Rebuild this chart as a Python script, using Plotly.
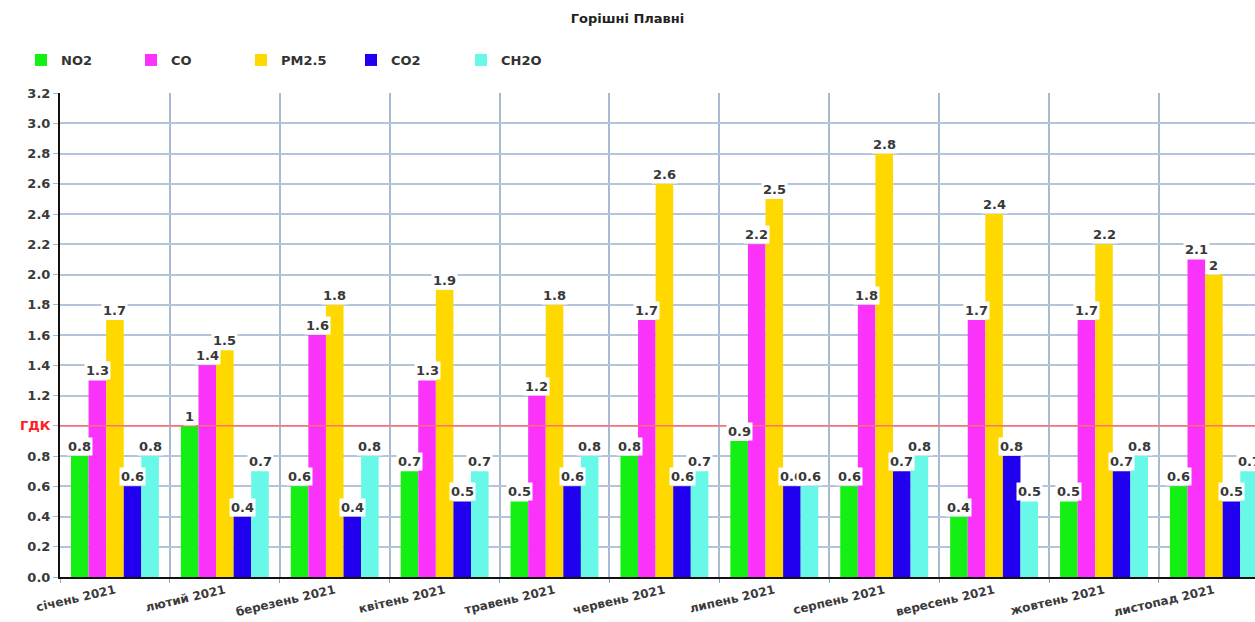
import plotly.graph_objects as go

# Monthly air-quality readings for Горішні Плавні (2021)
months = ["січень 2021", "лютий 2021", "березень 2021", "квітень 2021",
          "травень 2021", "червень 2021", "липень 2021", "серпень 2021",
          "вересень 2021", "жовтень 2021", "листопад 2021"]

no2 = [0.8, 1, 0.6, 0.7, 0.5, 0.8, 0.9, 0.6, 0.4, 0.5, 0.6]
co = [1.3, 1.4, 1.6, 1.3, 1.2, 1.7, 2.2, 1.8, 1.7, 1.7, 2.1]
pm25 = [1.7, 1.5, 1.8, 1.9, 1.8, 2.6, 2.5, 2.8, 2.4, 2.2, 2]
co2 = [0.6, 0.4, 0.4, 0.5, 0.6, 0.6, 0.6, 0.7, 0.8, 0.7, 0.5]
ch2o = [0.8, 0.7, 0.8, 0.7, 0.8, 0.7, 0.6, 0.8, 0.5, 0.8, 0.7]

series_names = ["NO2", "CO", "PM2.5", "CO2", "CH2O"]
series_values = [no2, co, pm25, co2, ch2o]
series_colors = ["#14F014", "#FA32FA", "#FFD800", "#2000EE", "#68F8E8"]

limit_value = 1.0          # ГДК threshold
y_ticks = [round(0.2 * k, 1) for k in range(17)]

W, H = 1255, 622
M_L, M_R, M_T, M_B = 60, 0, 93, 45
x_lo, x_hi = -0.5, 10.374
bargap = 0.2

plot_w = W - M_L - M_R
cat_px = plot_w / (x_hi - x_lo)
bar_px = cat_px * (1 - bargap) / len(series_names)

fig = go.Figure()
for name, vals, col in zip(series_names, series_values, series_colors):
    fig.add_trace(go.Bar(
        name=name, x=months, y=vals,
        marker=dict(color=col, line=dict(width=0)),
    ))

# value labels with a white box above each bar
label_font = dict(family="DejaVu Sans", size=13, color="#383838", weight="bold")
for i, vals in enumerate(series_values):
    shift = (i - (len(series_names) - 1) / 2) * bar_px
    for m, v in zip(months, vals):
        fig.add_annotation(
            x=m, y=v, xref="x", yref="y",
            text="{:g}".format(v), showarrow=False,
            yanchor="bottom", xanchor="center", xshift=shift, yshift=0,
            bgcolor="white", borderpad=1, font=label_font,
        )

# ГДК reference line
fig.add_shape(type="line", xref="paper", yref="y",
              x0=0, x1=1, y0=limit_value, y1=limit_value,
              line=dict(color="#FF7070", width=1.5), layer="above")

tick_text = []
for t in y_ticks:
    if abs(t - limit_value) < 1e-9:
        tick_text.append("<span style='color:#FF2020'>ГДК</span>")
    else:
        tick_text.append("{:.1f}".format(t))

axis_font = dict(family="DejaVu Sans", size=13, color="#3A3A3A", weight="bold")
xtick_font = dict(family="DejaVu Sans", size=12, color="#3A3A3A", weight="bold")

fig.update_layout(
    width=W, height=H,
    margin=dict(l=M_L, r=M_R, t=M_T, b=M_B, pad=0, autoexpand=False),
    paper_bgcolor="white", plot_bgcolor="white",
    barmode="group", bargap=bargap, bargroupgap=0,
    title=dict(text="Горішні Плавні", x=0.5, xref="container", xanchor="center",
               y=1 - 18 / H, yref="container", yanchor="middle",
               font=dict(family="DejaVu Sans", size=13, color="#222222", weight="bold")),
    legend=dict(orientation="h", x=21 / W, xref="container", xanchor="left",
                y=1 - 60 / H, yref="container", yanchor="middle",
                entrywidth=65, entrywidthmode="pixels",
                font=dict(family="DejaVu Sans", size=13, color="#333333", weight="bold"),
                itemsizing="constant", traceorder="normal"),
    showlegend=True,
)

fig.update_xaxes(
    range=[x_lo, x_hi], type="category", automargin=False,
    tickson="boundaries", ticks="outside", ticklen=4, tickcolor="#8FA4C0",
    showgrid=True, gridcolor="#A8BAD2", gridwidth=2,
    showline=True, linecolor="#111111", linewidth=2,
    tickangle=-13, tickfont=xtick_font,
)
fig.update_yaxes(
    range=[0, 3.2], tickvals=y_ticks, ticktext=tick_text, automargin=False,
    ticks="outside", ticklen=5, tickcolor="#A8BAD2",
    showgrid=True, gridcolor="#B4C4DA", gridwidth=2,
    showline=True, linecolor="#111111", linewidth=2,
    zeroline=False, tickfont=axis_font,
)

fig.write_html("out.html")
